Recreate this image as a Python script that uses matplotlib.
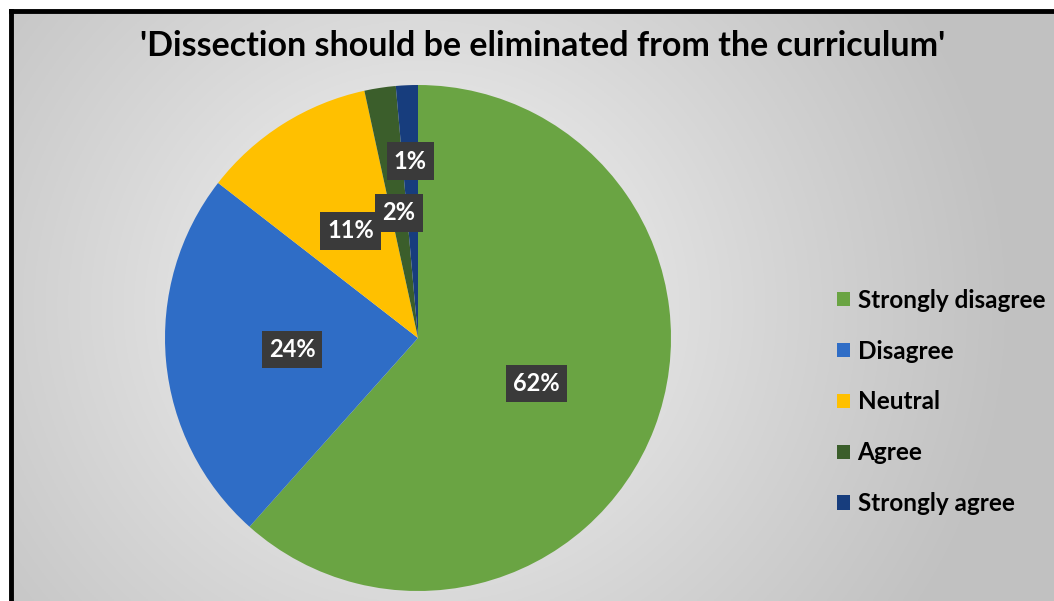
import numpy as np
import matplotlib
matplotlib.use("Agg")
import matplotlib.pyplot as plt
from matplotlib.patches import Rectangle
from matplotlib.lines import Line2D

categories = ["Strongly disagree", "Disagree", "Neutral", "Agree", "Strongly agree"]
values = [61.6, 23.9, 11.1, 2.0, 1.4]
colors = ["#6aa443", "#2f6dc6", "#ffc000", "#3b5e2b", "#173d7d"]
title = "'Dissection should be eliminated from the curriculum'"

W, H = 1054, 601
fig = plt.figure(figsize=(W / 100, H / 100), dpi=100)
fig.patch.set_facecolor("white")

# background with radial gradient
bg = fig.add_axes([10 / W, 0, 1 - 10 / W, 1 - 10 / H])
bg.set_axis_off()
yy, xx = np.mgrid[0:300, 0:520]
cx, cy = 205, 150
d = np.sqrt(((xx - cx) / 520) ** 2 + ((yy - cy) / 300) ** 2 * 0.35)
d = d / d.max()
val = 1.0 - 0.24 * np.clip(d * 1.2, 0, 1) ** 0.75
img = np.dstack([val, val, val])
bg.imshow(img, extent=[0, 1, 0, 1], aspect="auto", origin="upper")
bg.set_xlim(0, 1)
bg.set_ylim(0, 1)

# border lines (top and left)
fig.add_artist(Line2D([11 / W, 1], [1 - 11 / H, 1 - 11 / H], color="black", lw=3.5,
                      transform=fig.transFigure))
fig.add_artist(Line2D([11 / W, 11 / W], [0, 1 - 11 / H], color="black", lw=3.5,
                      transform=fig.transFigure))

# pie axes
R = 253
cxp, cyp = 418, 338
ax = fig.add_axes([(cxp - R) / W, (H - cyp - R) / H, 2 * R / W, 2 * R / H])
ax.set_axis_off()
wedges, texts = ax.pie(values, colors=colors, startangle=90, counterclock=False,
                       radius=1.0, wedgeprops=dict(linewidth=0))
ax.set_xlim(-1, 1)
ax.set_ylim(-1, 1)
ax.set_aspect("equal")

label_r = [0.5, 0.5, 0.5, 0.5, 0.7]
for w, v, r in zip(wedges, values, label_r):
    ang = np.deg2rad((w.theta1 + w.theta2) / 2)
    x, y = r * np.cos(ang), r * np.sin(ang)
    ax.text(x, y, f"{round(v):.0f}%", ha="center", va="center", color="white",
            fontsize=17, fontweight="bold", family="Lato",
            bbox=dict(boxstyle="square,pad=0.3", fc="#3a3a3a", ec="none"))

fig.text(543 / W, 1 - 46 / H, title, ha="center", va="center", fontsize=24.5,
         fontweight="bold", family="Lato", color="black")

handles = [Rectangle((0, 0), 1, 1, fc=c, ec="none") for c in colors]
leg = fig.legend(handles, categories, loc="center left",
                 bbox_to_anchor=(815 / W, 1 - 402 / H), frameon=False,
                 prop=dict(family="Lato", weight="bold", size=17.5),
                 handlelength=0.55, handleheight=0.55, handletextpad=0.3,
                 labelspacing=1.15)

fig.savefig("out.png", dpi=100)
